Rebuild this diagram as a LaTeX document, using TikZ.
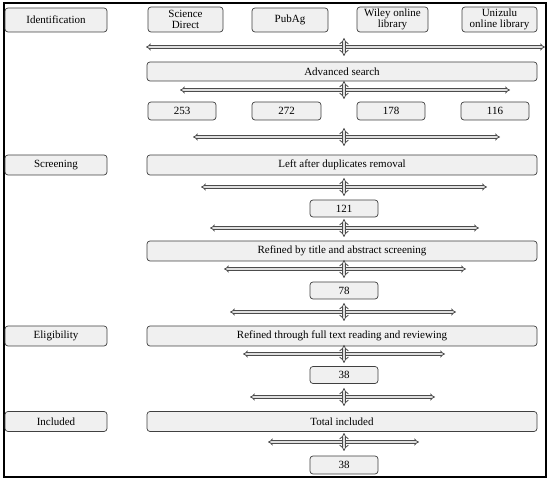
\documentclass[tikz,border=0pt]{standalone}
\usepackage{fontspec}
\setmainfont{Liberation Serif}
\usetikzlibrary{arrows.meta}
\begin{document}
\begin{tikzpicture}[x=1pt,y=-1pt,
  box/.style={draw=black!75,fill=gray!12,line width=0.7pt,rounded corners=3pt,
    inner sep=0pt,align=center,font=\fontsize{11}{11}\selectfont},
  hbar/.style={draw=black!70,double=gray!25,double distance=1.6pt,line width=0.8pt,
    {Implies[length=3pt]}-{Implies[length=3pt]}},
  vbar/.style={draw=black!70,double=gray!25,double distance=2.4pt,line width=0.8pt,
    {Implies[length=3pt]}-{Implies[length=3pt]}}]
\useasboundingbox (0,0) rectangle (550,481);
\draw[line width=1.1pt] (4,3) rectangle (546,477);
% stage labels
\node[box,minimum width=102pt,minimum height=24pt] (ident) at (56,20) {Identification};
\node[box,minimum width=102pt,minimum height=20pt] (scr) at (56,165) {Screening};
\node[box,minimum width=102pt,minimum height=20pt] (elig) at (56,336) {Eligibility};
\node[box,minimum width=102pt,minimum height=20pt] (incl) at (56,421.5) {Included};
% sources
\node[box,minimum width=75pt,minimum height=25pt] (sd) at (185.5,19.5) {Science\\Direct};
\node[box,minimum width=76pt,minimum height=24pt] (pa) at (290,20) {PubAg};
\node[box,minimum width=71pt,minimum height=25pt] (wi) at (392.5,19.5) {Wiley online\\library};
\node[box,minimum width=75pt,minimum height=25pt] (un) at (499.5,19.5) {Unizulu\\online library};
% wide boxes
\node[box,minimum width=390pt,minimum height=19pt] (adv) at (342,71.5) {Advanced search};
\node[box,minimum width=390pt,minimum height=20pt] (dup) at (342,165) {Left after duplicates removal};
\node[box,minimum width=390pt,minimum height=20pt] (tit) at (342,251) {Refined by title and abstract screening};
\node[box,minimum width=390pt,minimum height=20pt] (full) at (342,336) {Refined through full text reading and reviewing};
\node[box,minimum width=390pt,minimum height=20pt] (tot) at (342,421.5) {Total included};
% counts
\node[box,minimum width=68pt,minimum height=18pt] (n1) at (182,111) {253};
\node[box,minimum width=69pt,minimum height=18pt] (n2) at (286.5,111) {272};
\node[box,minimum width=68pt,minimum height=18pt] (n3) at (391,111) {178};
\node[box,minimum width=68pt,minimum height=18pt] (n4) at (495,111) {116};
\node[box,minimum width=68pt,minimum height=17pt] (c121) at (344,208.5) {121};
\node[box,minimum width=68pt,minimum height=17pt] (c78) at (344,290.5) {78};
\node[box,minimum width=68pt,minimum height=17pt] (c38a) at (344,375) {38};
\node[box,minimum width=68pt,minimum height=18pt] (c38b) at (344,465) {38};
% arrows
\foreach \i/\y/\xa/\xb in {1/47/146/545, 2/90/180/510, 3/137/193/500, 4/187/201/487,
  5/228/210/479, 6/269/224/466, 7/312/230/456, 8/354/243/445, 9/397/250/435, 10/442/268/419}{
  \coordinate (l\i) at (\xa,\y);
  \coordinate (r\i) at (\xb,\y);
  \coordinate (t\i) at (344,\y-9);
  \coordinate (b\i) at (344,\y+9);
  \draw[hbar] (l\i) -- (r\i);
  \draw[vbar] (t\i) -- (b\i);
}
\end{tikzpicture}
\end{document}
